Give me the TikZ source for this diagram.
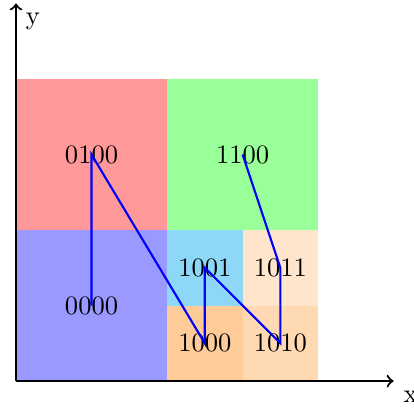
\documentclass[tikz,border=0pt]{standalone}
\definecolor{cellcyan}{RGB}{140,216,246}
\begin{document}
\begin{tikzpicture}[
  cell/.style={draw=none},
  zline/.style={blue,thick},
  axis/.style={thick,->}
]
\useasboundingbox (-0.212,-0.344) rectangle (5.27,5.046);
\fill[red!40] (0,2) rectangle (2,4);
\fill[green!40] (2,2) rectangle (4,4);
\fill[blue!40] (0,0) rectangle (2,2);
\fill[cellcyan] (2,1) rectangle (3,2);
\fill[orange!20] (3,1) rectangle (4,2);
\fill[orange!40] (2,0) rectangle (3,1);
\fill[orange!30] (3,0) rectangle (4,1);
\node (n0000) at (1,1) {0000};
\node (n0100) at (1,3) {0100};
\node (n1000) at (2.5,0.5) {1000};
\node (n1001) at (2.5,1.5) {1001};
\node (n1010) at (3.5,0.5) {1010};
\node (n1011) at (3.5,1.5) {1011};
\node (n1100) at (3,3) {1100};
\draw[zline] (n0000.center) -- (n0100.center) -- (n1000.center) -- (n1001.center) -- (n1010.center) -- (n1011.center) -- (n1100.center);
\coordinate (o) at (0,0);
\coordinate (xe) at (5,0);
\coordinate (ye) at (0,5);
\draw[axis] (o) -- (xe) node[below right] {x};
\draw[axis] (o) -- (ye) node[below right] {y};
\end{tikzpicture}
\end{document}
